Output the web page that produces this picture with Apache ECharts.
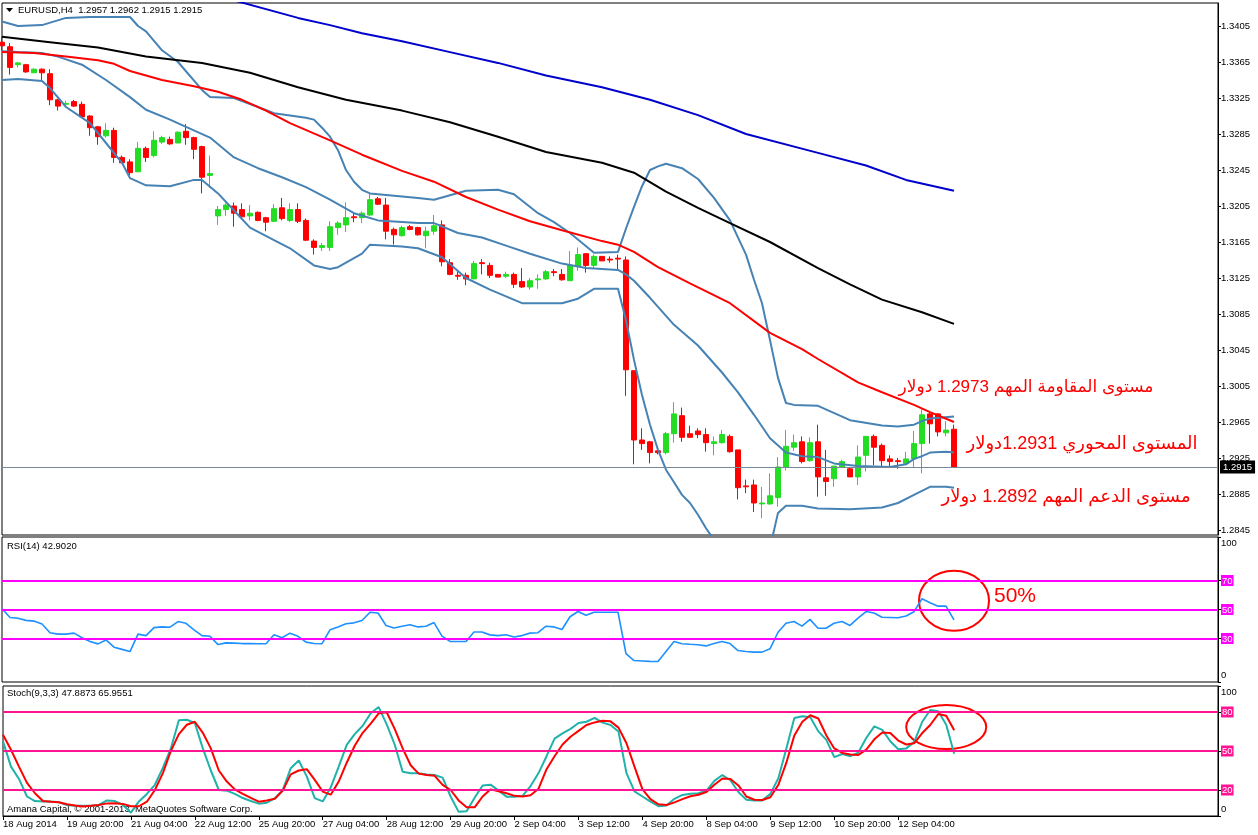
<!DOCTYPE html>
<html>
<head>
<meta charset="utf-8">
<script src="https://cdn.jsdelivr.net/npm/echarts@6/dist/echarts.min.js"></script>
<style>
html,body{margin:0;padding:0;background:#fff;}
#c{width:1258px;height:835px;}
</style>
</head>
<body>
<div id="c"></div>
<script>
// ---------------- DATA ----------------
// time-axis tick labels (one every 8 H4 bars, starting at bar 0)
const xTickLabels = ['18 Aug 2014','19 Aug 20:00','21 Aug 04:00','22 Aug 12:00','25 Aug 20:00','27 Aug 04:00','28 Aug 12:00','29 Aug 20:00','2 Sep 04:00','3 Sep 12:00','4 Sep 20:00','8 Sep 04:00','9 Sep 12:00','10 Sep 20:00','12 Sep 04:00'];
const priceTicks = [1.2845,1.2885,1.2925,1.2965,1.3005,1.3045,1.3085,1.3125,1.3165,1.3205,1.3245,1.3285,1.3325,1.3365,1.3405];
const rsiTicks = [0,30,50,70,100];
const rsiLevels = [30,50,70];
const stochTicks = [0,20,50,80,100];
const stochLevels = [20,50,80];

// EURUSD H4 candles: [open, close, low, high]
const ohlc = [
[1.3387,1.3383,1.3378,1.3393],[1.3382,1.3359,1.3351,1.3386],[1.3362,1.3364,1.3359,1.3365],[1.3362,1.3354,1.3353,1.3363],
[1.3353,1.3357,1.3353,1.3358],[1.3357,1.3353,1.3344,1.3358],[1.3352,1.3323,1.3317,1.3357],[1.3323,1.3316,1.3311,1.3324],
[1.3318,1.3319,1.3315,1.3322],[1.3321,1.3316,1.3315,1.3323],[1.3318,1.3304,1.3303,1.3321],[1.3305,1.3292,1.3283,1.3306],
[1.3293,1.3282,1.3273,1.3294],[1.3283,1.3289,1.3281,1.3297],[1.3289,1.3259,1.3253,1.3292],[1.3259,1.3253,1.3253,1.3261],
[1.3254,1.3242,1.3239,1.3257],[1.3243,1.3269,1.3243,1.3276],[1.3269,1.3259,1.3254,1.3271],[1.3261,1.3278,1.3259,1.3288],
[1.3276,1.3281,1.3274,1.3283],[1.3279,1.3274,1.3273,1.3282],[1.3275,1.3287,1.3275,1.3288],[1.3288,1.3281,1.3273,1.3296],
[1.3281,1.3268,1.3257,1.3282],[1.3271,1.3237,1.3219,1.3272],[1.3239,1.3241,1.3225,1.3261],[1.3194,1.3201,1.3184,1.3205],
[1.3201,1.3206,1.3194,1.3208],[1.3205,1.3197,1.3182,1.3209],[1.3201,1.3193,1.3192,1.3208],[1.3194,1.3197,1.3189,1.3206],
[1.3198,1.3189,1.3188,1.3199],[1.3192,1.3187,1.3177,1.3193],[1.3188,1.3202,1.3187,1.3207],[1.3203,1.3191,1.3189,1.3214],
[1.3189,1.3201,1.3187,1.3208],[1.3201,1.3188,1.3186,1.3208],[1.3189,1.3167,1.3166,1.3191],[1.3166,1.3159,1.3151,1.3168],
[1.3159,1.3161,1.3155,1.3164],[1.3159,1.3182,1.3155,1.3188],[1.3181,1.3186,1.3173,1.3188],[1.3184,1.3192,1.3176,1.3209],
[1.3193,1.3192,1.3187,1.3198],[1.3192,1.3197,1.3186,1.3199],[1.3195,1.3212,1.3194,1.3219],[1.3213,1.3207,1.3206,1.3215],
[1.3206,1.3177,1.3168,1.3214],[1.3179,1.3173,1.3162,1.3181],[1.3172,1.3181,1.3171,1.3183],[1.3182,1.3179,1.3178,1.3184],
[1.3181,1.3173,1.3172,1.3182],[1.3172,1.3177,1.3158,1.3182],[1.3177,1.3183,1.3173,1.3195],[1.3184,1.3143,1.3138,1.3189],
[1.3142,1.3129,1.3128,1.3146],[1.3128,1.3127,1.3123,1.3134],[1.3128,1.3124,1.3117,1.3131],[1.3124,1.3141,1.3124,1.3144],
[1.3142,1.3141,1.3129,1.3146],[1.3139,1.3128,1.3125,1.3142],[1.3129,1.3126,1.3126,1.3129],[1.3127,1.3129,1.3125,1.3132],
[1.3129,1.3118,1.3114,1.3131],[1.3121,1.3115,1.3114,1.3136],[1.3115,1.3122,1.3112,1.3125],[1.3123,1.3124,1.3113,1.3129],
[1.3124,1.3132,1.3123,1.3134],[1.3132,1.3131,1.3127,1.3135],[1.3129,1.3123,1.3122,1.3135],[1.3122,1.3139,1.3122,1.3155],
[1.3138,1.3151,1.3133,1.3159],[1.3152,1.3139,1.3131,1.3152],[1.3139,1.3149,1.3135,1.3151],[1.3149,1.3144,1.3144,1.3149],
[1.3146,1.3145,1.3142,1.3149],[1.3147,1.3146,1.3134,1.3151],[1.3145,1.3023,1.2994,1.3149],[1.3022,1.2945,1.2918,1.3022],
[1.2945,1.2941,1.2934,1.2958],[1.2943,1.2931,1.2919,1.2944],[1.2933,1.2931,1.2929,1.2934],[1.2931,1.2952,1.2929,1.2954],
[1.2952,1.2974,1.2942,1.2987],[1.2972,1.2948,1.2943,1.2981],[1.2952,1.2948,1.2948,1.2961],[1.2955,1.2951,1.2947,1.2958],
[1.2951,1.2942,1.2932,1.2958],[1.2941,1.2943,1.2928,1.2949],[1.2942,1.2951,1.2941,1.2956],[1.2949,1.2932,1.2931,1.2951],
[1.2934,1.2892,1.2879,1.2934],[1.2894,1.2893,1.2886,1.2901],[1.2895,1.2875,1.2865,1.2901],[1.2874,1.2875,1.2858,1.2893],
[1.2874,1.2883,1.2873,1.2908],[1.2881,1.2915,1.2871,1.2926],[1.2915,1.2938,1.2911,1.2956],[1.2937,1.2942,1.2933,1.2951],
[1.2943,1.2921,1.2919,1.2949],[1.2922,1.2942,1.2921,1.2948],[1.2943,1.2904,1.2882,1.2962],[1.2903,1.2899,1.2883,1.2934],
[1.2902,1.2916,1.2893,1.2916],[1.2915,1.2921,1.2915,1.2923],[1.2913,1.2904,1.2904,1.2914],[1.2904,1.2926,1.2895,1.2939],
[1.2928,1.2949,1.2910,1.2949],[1.2949,1.2937,1.2917,1.2951],[1.2939,1.2922,1.2915,1.2941],[1.2924,1.2921,1.2915,1.2928],
[1.2922,1.2921,1.2913,1.2925],[1.2919,1.2924,1.2918,1.2932],[1.2924,1.2941,1.2915,1.2955],[1.2941,1.2973,1.2908,1.2979],
[1.2974,1.2963,1.2941,1.2976],[1.2974,1.2954,1.2949,1.2975],[1.2953,1.2956,1.2949,1.2966],[1.2957,1.2915,1.2915,1.2962]
];

// indicator lines as [bar index, value]
const bbUpper = [[0,1.3410],[2,1.3405],[5,1.3406],[8,1.3414],[11,1.3415],[16,1.3415],[17,1.3405],[18,1.3399],[20,1.3378],[22,1.3365],[25,1.3334],[26,1.3326],[29,1.3325],[32,1.3315],[34,1.3308],[38,1.3303],[39,1.3301],[40,1.3292],[41,1.3282],[42,1.3267],[43,1.3245],[44,1.3232],[45,1.3223],[46,1.3219],[52,1.3214],[54,1.3212],[58,1.3222],[62,1.3223],[64,1.3218],[67,1.3197],[69,1.3187],[71,1.3175],[74,1.3153],[77,1.3154],[78,1.3180],[79,1.3204],[80,1.3227],[81,1.3245],[82,1.3249],[83,1.3252],[85,1.3247],[87,1.3235],[89,1.3214],[91,1.3189],[93,1.3151],[94,1.3123],[95,1.3097],[96,1.3056],[97,1.3014],[98,1.2986],[99,1.2984],[102,1.2983],[106,1.2967],[110,1.2961],[112,1.2960],[114,1.2962],[115,1.2966],[116,1.2969],[119,1.2971]];
const bbMiddle = [[0,1.3377],[2,1.3376],[5,1.3375],[7,1.3371],[10,1.3362],[13,1.3345],[16,1.3326],[18,1.3312],[21,1.3301],[23,1.3293],[26,1.3281],[29,1.3259],[32,1.3247],[35,1.3237],[38,1.3226],[41,1.3212],[44,1.3197],[47,1.3189],[52,1.3186],[54,1.3186],[57,1.3175],[60,1.3170],[63,1.3161],[66,1.3152],[70,1.3141],[73,1.3136],[77,1.3134],[78,1.3129],[79,1.3122],[81,1.3103],[84,1.3073],[87,1.3050],[90,1.3020],[92,1.2998],[94,1.2973],[96,1.2947],[98,1.2931],[100,1.2927],[102,1.2926],[104,1.2919],[107,1.2916],[111,1.2915],[113,1.2918],[114,1.2924],[115,1.2927],[116,1.2931],[118,1.2932],[119,1.2931]];
const bbLower = [[0,1.3345],[2,1.3346],[5,1.3344],[6,1.3336],[8,1.3315],[11,1.3297],[13,1.3275],[15,1.3253],[16,1.3236],[18,1.3228],[21,1.3227],[24,1.3234],[25,1.3234],[27,1.3219],[29,1.3200],[31,1.3181],[34,1.3167],[36,1.3158],[39,1.3139],[41,1.3135],[42,1.3137],[45,1.3152],[46,1.3162],[50,1.3160],[52,1.3158],[55,1.3148],[58,1.3125],[61,1.3112],[65,1.3097],[70,1.3097],[72,1.3102],[74,1.3113],[77,1.3113],[78,1.3078],[79,1.3034],[80,1.2995],[81,1.2962],[82,1.2934],[83,1.2912],[84,1.2898],[85,1.2884],[86,1.2875],[87,1.2862],[88,1.2847],[89,1.2834],[90,1.2823],[91,1.2814],[92,1.2808],[93,1.2805],[94,1.2805],[95,1.2808],[96,1.2825],[97,1.2864],[98,1.2872],[100,1.2872],[102,1.2869],[106,1.2868],[110,1.2870],[112,1.2875],[114,1.2884],[116,1.2893],[118,1.2893],[119,1.2892]];
const maRed = [[0,1.3376],[4,1.3375],[8,1.3371],[12,1.3367],[14,1.3363],[16,1.3355],[20,1.3345],[24,1.3338],[27,1.3332],[30,1.3323],[33,1.3311],[36,1.3297],[41,1.3278],[45,1.3262],[50,1.3244],[54,1.3232],[58,1.3215],[62,1.3201],[66,1.3188],[70,1.3178],[75,1.3166],[77,1.3162],[79,1.3154],[82,1.3137],[86,1.3119],[91,1.3097],[96,1.3064],[100,1.3046],[102,1.3035],[107,1.3009],[110,1.2998],[114,1.2984],[116,1.2976],[119,1.2965]];
const maBlack = [[0,1.3393],[6,1.3387],[12,1.3381],[18,1.3371],[25,1.3364],[31,1.3353],[37,1.3337],[43,1.3323],[50,1.3311],[56,1.3298],[62,1.3282],[68,1.3265],[75,1.3253],[79,1.3242],[83,1.3221],[87,1.3203],[91,1.3186],[96,1.3165],[102,1.3136],[106,1.3118],[110,1.3101],[115,1.3087],[119,1.3074]];
const maBlue = [[26,1.3441],[30,1.3431],[37,1.3414],[41,1.3406],[45,1.3397],[50,1.3388],[56,1.3376],[62,1.3364],[68,1.3350],[75,1.3337],[81,1.3323],[87,1.3306],[93,1.3285],[102,1.3264],[108,1.3250],[113,1.3234],[119,1.3222]];

const rsi14 = [50.5,44.5,44,42.5,42,40,34,33,33,33.7,
30.5,28,26.3,29,24,22.5,21,33,32,37.5,
38,37.8,41.7,40.5,36,32,31.6,25.8,27,26.8,
26.5,26.5,26.4,26.4,32.6,30.5,33.7,31.5,27.5,26.5,
26.4,36,38,40.2,40.8,42.4,48.1,47.6,39,37.3,
38.5,39.5,38,38.5,41,31.6,28,27.9,27.9,34.5,
34.5,32.5,32,32.6,31,32,33.7,34,38.5,38,
36.2,45,48.6,46,48.1,48.1,48.1,48.1,19.5,14.8,
14.5,14.2,14.1,21,27.9,26.4,26,25.7,24.9,26.5,
27.9,26.5,21.7,21,20.6,20.6,22.9,34.3,40.5,41.7,
38.5,43.2,37.1,37.1,40.5,41.7,39,44,48.6,47.6,
44.7,44.5,44.3,45.5,48.5,57.4,54.6,52.3,52.3,42.9];

const stochMain = [57.4,38,28.5,15,11.5,11.2,11.2,10.5,8.5,7.8,
7.8,7.8,8.5,12,11.5,8.5,2.6,11.2,17,24,
37,52,73.6,74,71.5,52,35,20,19.5,17,
13.8,11.5,9.5,10.2,13.5,20,36.8,42.7,30.5,13.7,
11.2,22,38,54.7,63,69.4,79,83.8,70.5,55,
34,32.9,32.9,32,31.5,29.5,15,3.2,3.7,14,
23.5,24.1,19.5,14.9,14.9,15.5,23,33,46,59.5,
63.5,67,71.5,72.5,75.5,71.8,70,65,33,19,
15,11,7.5,8,13.2,16.2,17.2,17.5,19.5,27,
31.5,27.5,18.5,12.5,12,12,17,29,52,75.4,
76.8,76,65.1,58.6,45.3,47.7,46,48.8,60,68.9,
66.3,57.5,51.4,52,57,72.5,81.5,80.5,70.2,47.9];

const stochSignal = [62.5,51,38,25.5,17.5,11.5,11,10.6,9,8,
7.4,7.8,8.5,9.7,9.8,9.3,7.5,7.5,11,20,
33,50,63,70.2,72.5,64,52,35,26.5,20.5,
17,14,11,12,13.3,19.5,32,35,36,27.8,
18.8,16.4,26.5,41,54,64,71,79,79.8,67,
52,39,32.6,31.5,30.9,24,20,12,6.7,6.7,
15,20.5,19,17.5,15.5,15,16,21,36,46,
55,61,65.5,70,72,73.2,72.8,68,56,38,
20.5,13,9,8.5,10.5,13,15.2,16.4,18.5,24,
28.8,28.5,23.5,15,12.5,12.3,14.4,24,41,62,
72.5,77.5,75,62,52,48.5,47.3,47,51,59,
64.3,63.8,58,55,56,63.8,70,78.4,77.1,66];

// ---------------- LAYOUT / STYLE ----------------
const slotCount = 153;            // bar slots across the chart width (incl. empty right margin)
const tickEvery = 8;
const priceMin = 1.283944, priceMax = 1.343056;
const smallFont = '"Liberation Sans", "DejaVu Sans", Arial, sans-serif';
const smallSize = 9.5;
const categories = Array.from({length: slotCount}, (_, i) => String(i));
const currentPrice = ohlc[ohlc.length - 1][1];

const GL = 2, GW = 1216;
const grids = [
  {left: GL, width: GW, top: 3, height: 532},
  {left: GL, width: GW, top: 537, height: 145},
  {left: GL, width: GW, top: 686, height: 130}
].map(g => Object.assign(g, {show: true, borderColor: '#000', borderWidth: 1, backgroundColor: '#fff'}));

const showTick = idx => idx % tickEvery === 0 && idx / tickEvery < xTickLabels.length;

function xAxisFor(i, withLabels) {
  return {
    type: 'category', gridIndex: i, data: categories, boundaryGap: false,
    axisLine: {show: withLabels, lineStyle: {color: '#000', width: 1}},
    axisTick: {show: withLabels, length: 4, lineStyle: {color: '#000'}, interval: showTick},
    axisLabel: {show: withLabels, align: 'left', margin: 3, fontSize: smallSize, fontFamily: smallFont, color: '#000',
      showMinLabel: true, showMaxLabel: true, hideOverlap: false,
      interval: showTick,
      formatter: (v, idx) => xTickLabels[idx / tickEvery] || ''},
    splitLine: {show: false}
  };
}

function yAxisFor(i, min, max, ticks, fmt, rich) {
  return {
    type: 'value', gridIndex: i, position: 'right', min: min, max: max, scale: true,
    axisLine: {show: true, lineStyle: {color: '#000', width: 1}},
    axisTick: {show: true, length: 3, lineStyle: {color: '#000'}, customValues: ticks},
    axisLabel: {show: true, customValues: ticks, formatter: fmt, rich: rich, margin: 3,
      fontSize: smallSize, fontFamily: smallFont, color: '#000'},
    splitLine: {show: false}
  };
}

const levelRich = (bg) => ({
  m: {backgroundColor: bg, color: '#fff', padding: [1, 1, 0, 1], fontSize: smallSize, fontFamily: smallFont},
  t: {padding: [13, 0, 0, 0], fontSize: smallSize, fontFamily: smallFont, color: '#000'},
  b: {padding: [0, 0, 13, 0], fontSize: smallSize, fontFamily: smallFont, color: '#000'}
});
const levelFmt = v => v === 100 ? '{t|100}' : (v === 0 ? '{b|0}' : '{m|' + v + '}');

function lineSeries(name, data, color, width, xi, yi, z) {
  return {name: name, type: 'line', data: data, xAxisIndex: xi, yAxisIndex: yi, showSymbol: false, symbol: 'none',
    lineStyle: {color: color, width: width}, itemStyle: {color: color}, z: z || 3, silent: true, animation: false};
}
function levelSeries(levels, color, xi, yi, width, label) {
  return {type: 'line', data: [], xAxisIndex: xi, yAxisIndex: yi, z: 1, silent: true,
    markLine: {symbol: ['none', 'none'], silent: true, animation: false, precision: 6,
      label: label || {show: false},
      lineStyle: {color: color, width: width, type: 'solid'},
      data: levels.map(v => ({yAxis: v}))}};
}

const chart = echarts.init(document.getElementById('c'), null, {renderer: 'canvas'});

const option = {
  animation: false,
  backgroundColor: '#fff',
  grid: grids,
  xAxis: [xAxisFor(0, false), xAxisFor(1, false), xAxisFor(2, true)],
  yAxis: [
    yAxisFor(0, priceMin, priceMax, priceTicks, v => v.toFixed(4)),
    yAxisFor(1, 0, 100, rsiTicks, levelFmt, levelRich('#FF00FF')),
    yAxisFor(2, 0, 100, stochTicks, levelFmt, levelRich('#FF1493'))
  ],
  series: [
    levelSeries([currentPrice], '#778899', 0, 0, 1, {
      show: true, position: 'end', distance: 2, formatter: currentPrice.toFixed(4),
      color: '#fff', backgroundColor: '#000', padding: [2, 3, 1, 3], fontSize: smallSize, fontFamily: smallFont}),
    {
      type: 'candlestick', xAxisIndex: 0, yAxisIndex: 0, data: ohlc, barWidth: 5, z: 2,
      itemStyle: {color: '#22DD22', color0: '#FF0000', borderColor: '#22DD22', borderColor0: '#FF0000', borderWidth: 1}
    },
    lineSeries('BB upper', bbUpper, '#4682B4', 2, 0, 0),
    lineSeries('BB middle', bbMiddle, '#4682B4', 2, 0, 0),
    lineSeries('BB lower', bbLower, '#4682B4', 2, 0, 0),
    lineSeries('MA red', maRed, '#FF0000', 2, 0, 0),
    lineSeries('MA black', maBlack, '#000000', 2, 0, 0),
    lineSeries('MA blue', maBlue, '#0000CD', 2, 0, 0),
    levelSeries(rsiLevels, '#FF00FF', 1, 1, 2),
    lineSeries('RSI', rsi14, '#1E90FF', 1.6, 1, 1),
    levelSeries(stochLevels, '#FF1493', 2, 2, 2),
    lineSeries('Stoch main', stochMain, '#20B2AA', 2, 2, 2),
    lineSeries('Stoch signal', stochSignal, '#FF0000', 2, 2, 2)
  ]
};
chart.setOption(option);

// ---------------- ANNOTATIONS (anchored in data coordinates) ----------------
const priceNotes = [
  {text: 'مستوى المقاومة المهم 1.2973 دولار', at: [127.5, 1.3004], size: 17},
  {text: 'المستوى المحوري 1.2931دولار', at: [135, 1.2941], size: 18},
  {text: 'مستوى الدعم المهم 1.2892 دولار', at: [133.1, 1.2882], size: 18}
];
const rsiCircle = {at: [118.5, 56], rx: 35, ry: 30};
const rsiNote = {text: '50%', at: [124.4, 59]};
const stochCircle = {at: [118.1, 68.4], rx: 40, ry: 22};

const px = (gi, p) => chart.convertToPixel({xAxisIndex: gi, yAxisIndex: gi}, p);
const graphics = [];
priceNotes.forEach(n => {
  const [x, y] = px(0, n.at);
  graphics.push({type: 'text', x: x, y: y, silent: true,
    style: {text: n.text, font: n.size + 'px "Liberation Sans", "DejaVu Sans", Arial, sans-serif',
      fill: '#FF0000', align: 'center', verticalAlign: 'middle'}});
});
{
  const [cx, cy] = px(1, rsiCircle.at);
  graphics.push({type: 'ellipse', silent: true, shape: {cx: cx, cy: cy, rx: rsiCircle.rx, ry: rsiCircle.ry},
    style: {stroke: '#FF0000', fill: 'none', lineWidth: 2}});
  const [tx, ty] = px(1, rsiNote.at);
  graphics.push({type: 'text', x: tx, y: ty, silent: true,
    style: {text: rsiNote.text, font: '21px "Liberation Sans", Arial, sans-serif', fill: '#FF0000', align: 'left', verticalAlign: 'middle'}});
  const [sx, sy] = px(2, stochCircle.at);
  graphics.push({type: 'ellipse', silent: true, shape: {cx: sx, cy: sy, rx: stochCircle.rx, ry: stochCircle.ry},
    style: {stroke: '#FF0000', fill: 'none', lineWidth: 2}});
}
// panel captions
const capFont = smallSize + 'px ' + smallFont;
graphics.push({type: 'polygon', silent: true, shape: {points: [[6, 8], [13, 8], [9.5, 12]]}, style: {fill: '#000'}});
graphics.push({type: 'text', x: 18, y: 10, silent: true,
  style: {text: 'EURUSD,H4  1.2957 1.2962 1.2915 1.2915', font: capFont, fill: '#000', verticalAlign: 'middle'}});
graphics.push({type: 'text', x: 7, y: 546, silent: true,
  style: {text: 'RSI(14) 42.9020', font: capFont, fill: '#000', verticalAlign: 'middle'}});
graphics.push({type: 'text', x: 7, y: 693, silent: true,
  style: {text: 'Stoch(9,3,3) 47.8873 65.9551', font: capFont, fill: '#000', verticalAlign: 'middle'}});
graphics.push({type: 'text', x: 7, y: 809, silent: true,
  style: {text: 'Amana Capital, © 2001-2013, MetaQuotes Software Corp.', font: capFont, fill: '#000', verticalAlign: 'middle'}});

chart.setOption({graphic: graphics});
</script>
</body>
</html>
